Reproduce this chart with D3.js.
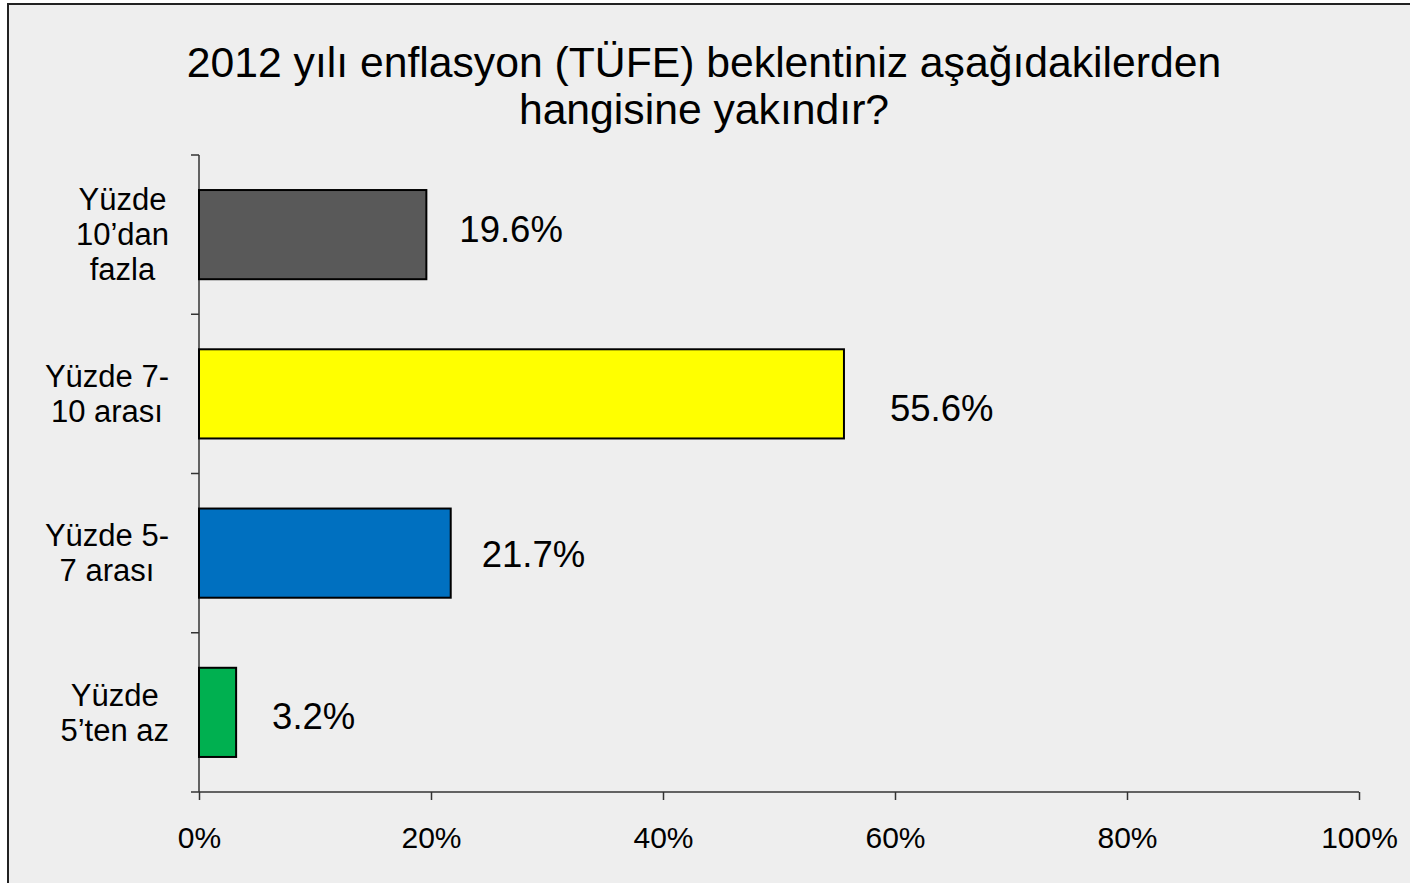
<!DOCTYPE html>
<html>
<head>
<meta charset="utf-8">
<script src="https://cdn.jsdelivr.net/npm/d3@7"></script>
<style>
  html, body { margin: 0; padding: 0; background: #ffffff; }
  svg { display: block; }
  text { font-family: Arial, "Liberation Sans", sans-serif; fill: #000; }
</style>
</head>
<body>
<svg id="chart" width="1410" height="883"></svg>
<script>
const titleLines = ["2012 yılı enflasyon (TÜFE) beklentiniz aşağıdakilerden", "hangisine yakındır?"];
const categories = [
  ["Yüzde", "10’dan", "fazla"],
  ["Yüzde 7-", "10 arası"],
  ["Yüzde 5-", "7 arası"],
  ["Yüzde", "5’ten az"]
];
const values = [19.6, 55.6, 21.7, 3.2];
const barColors = ["#595959", "#ffff00", "#0070c0", "#00b050"];
const xTicks = [0, 20, 40, 60, 80, 100];

// layout: hand-placed data-label nudges (as in the original)
const labelNudgeX = [1, 14, -1, 4];
const labelNudgeY = [-5, 14, 1, 4];

const svg = d3.select("#chart");
const W = 1410, H = 883;

// frame
svg.append("rect").attr("x", 0).attr("y", 0).attr("width", W).attr("height", H).attr("fill", "#ffffff");
svg.append("rect").attr("x", 8).attr("y", 4).attr("width", W + 20).attr("height", H + 20)
  .attr("fill", "#eeeeee").attr("stroke", "#222").attr("stroke-width", 2);

// title
svg.append("g").selectAll("text").data(titleLines).join("text")
  .attr("x", 704).attr("y", (d, i) => 77 + i * 47)
  .attr("text-anchor", "middle").attr("font-size", 42.7)
  .text(d => d);

const pL = 199, pR = 1359, pT = 155, pB = 792;
const x = d3.scaleLinear().domain([0, 100]).range([pL, pR]);
const y = d3.scaleBand().domain(d3.range(categories.length)).range([pT, pB]).paddingInner(0.44).paddingOuter(0.22);

// axes
const xAxis = svg.append("g").attr("transform", `translate(0,${pB})`)
  .call(d3.axisBottom(x).tickValues(xTicks).tickSize(8).tickPadding(27).tickFormat(d => d + "%"));
xAxis.select(".domain").attr("stroke", "#333").attr("stroke-width", 1.5).attr("d", `M${pL},0H${pR}`);
xAxis.selectAll(".tick line").attr("stroke", "#333").attr("stroke-width", 1.5);
xAxis.selectAll(".tick text").attr("font-size", 30).attr("font-family", "Arial, 'Liberation Sans', sans-serif").attr("fill", "#000");

const yEdges = d3.range(categories.length + 1).map(i => pT + i * (pB - pT) / categories.length);
svg.append("line").attr("x1", pL).attr("x2", pL).attr("y1", pT).attr("y2", pB)
  .attr("stroke", "#333").attr("stroke-width", 1.5);
svg.append("g").selectAll("line").data(yEdges).join("line")
  .attr("x1", pL - 8).attr("x2", pL).attr("y1", d => d).attr("y2", d => d)
  .attr("stroke", "#333").attr("stroke-width", 1.5);

// bars
svg.append("g").selectAll("rect").data(values).join("rect")
  .attr("x", x(0)).attr("y", (d, i) => y(i))
  .attr("width", d => x(d) - x(0)).attr("height", y.bandwidth())
  .attr("fill", (d, i) => barColors[i]).attr("stroke", "#000").attr("stroke-width", 2);

// value labels
svg.append("g").selectAll("text").data(values).join("text")
  .attr("x", (d, i) => x(d) + 32 + labelNudgeX[i])
  .attr("y", (d, i) => y(i) + y.bandwidth() / 2 + labelNudgeY[i])
  .attr("dy", "0.35em").attr("font-size", 36.5)
  .text(d => d.toFixed(1) + "%");

// category labels
const catG = svg.append("g");
categories.forEach((lines, i) => {
  const g = catG.append("g");
  const t = g.selectAll("text").data(lines).join("text")
    .attr("font-size", 31).attr("text-anchor", "middle")
    .attr("y", (d, j) => y(i) + y.bandwidth() / 2 + (j - (lines.length - 1) / 2) * 35)
    .attr("dy", "0.35em")
    .text(d => d);
  let maxW = 0;
  t.each(function() { maxW = Math.max(maxW, this.getComputedTextLength()); });
  t.attr("x", 169 - maxW / 2);
});
</script>
</body>
</html>
